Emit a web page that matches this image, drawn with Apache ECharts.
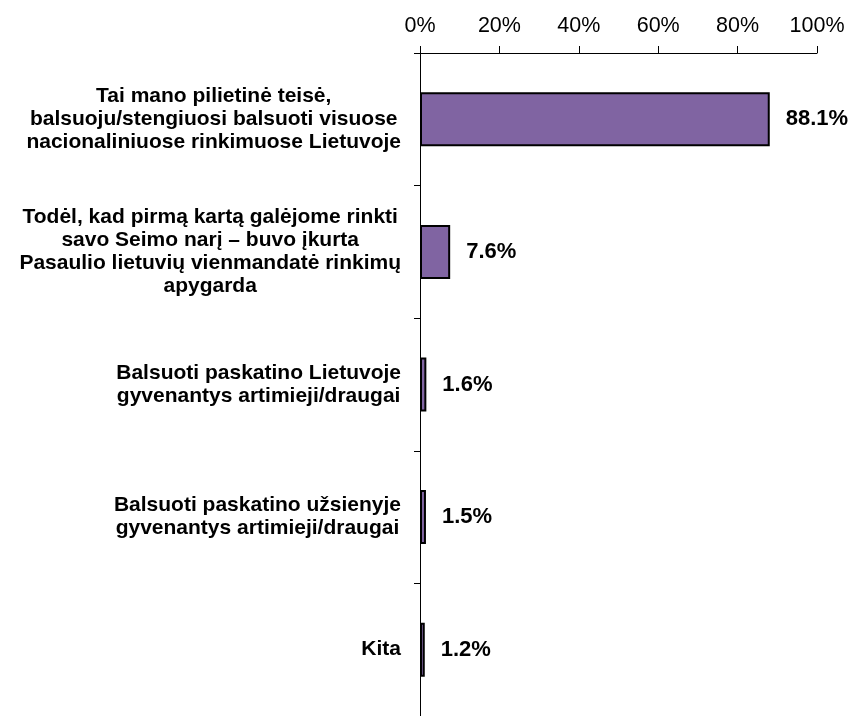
<!DOCTYPE html>
<html>
<head>
<meta charset="utf-8">
<script src="https://cdn.jsdelivr.net/npm/echarts@6/dist/echarts.min.js"></script>
<style>
html,body{margin:0;padding:0;background:#fff;}
#chart{width:851px;height:716px;}
</style>
</head>
<body>
<div id="chart"></div>
<script>
const categories = [
  "Tai mano pilietinė teisė,\nbalsuoju/stengiuosi balsuoti visuose\nnacionaliniuose rinkimuose Lietuvoje",
  "Todėl, kad pirmą kartą galėjome rinkti\nsavo Seimo narį – buvo įkurta\nPasaulio lietuvių vienmandatė rinkimų\napygarda",
  "Balsuoti paskatino Lietuvoje\ngyvenantys artimieji/draugai",
  "Balsuoti paskatino užsienyje\ngyvenantys artimieji/draugai",
  "Kita"
];
const values = [88.1, 7.6, 1.6, 1.5, 1.2];
const xTicks = [0, 20, 40, 60, 80, 100];

const FONT = '"Liberation Sans", Arial, sans-serif';
const chart = echarts.init(document.getElementById('chart'));
chart.setOption({
  animation: false,
  backgroundColor: '#ffffff',
  grid: { left: 420, top: 53, width: 397, height: 668, containLabel: false },
  xAxis: {
    type: 'value',
    position: 'top',
    min: xTicks[0],
    max: xTicks[xTicks.length - 1],
    interval: xTicks[1] - xTicks[0],
    axisLine: { show: true, lineStyle: { color: '#000', width: 1 } },
    axisTick: { show: true, length: 7, inside: false, lineStyle: { color: '#000', width: 1 } },
    splitLine: { show: false },
    axisLabel: {
      formatter: v => v + '%',
      fontFamily: FONT,
      fontSize: 21.5,
      color: '#000',
      margin: 16
    }
  },
  yAxis: {
    type: 'category',
    inverse: true,
    data: categories,
    axisLine: { show: true, lineStyle: { color: '#000', width: 1 } },
    axisTick: { show: true, length: 6, alignWithLabel: false, lineStyle: { color: '#000', width: 1 } },
    splitLine: { show: false },
    axisLabel: {
      margin: 19,
      align: 'right',
      interval: 0,
      formatter: v => v.split('\n').map(s => '{c|' + s + '}').join('\n'),
      rich: {
        c: {
          align: 'center',
          fontFamily: FONT,
          fontWeight: 'bold',
          fontSize: 21,
          lineHeight: 23,
          color: '#000'
        }
      }
    }
  },
  series: [{
    type: 'bar',
    data: values,
    barWidth: 54,
    itemStyle: { color: '#8064A2', borderColor: '#000', borderWidth: 2 },
    label: {
      show: true,
      position: 'right',
      distance: 16,
      formatter: p => p.value.toFixed(1) + '%',
      fontFamily: FONT,
      fontWeight: 'bold',
      fontSize: 22,
      color: '#000'
    }
  }]
});
</script>
</body>
</html>
